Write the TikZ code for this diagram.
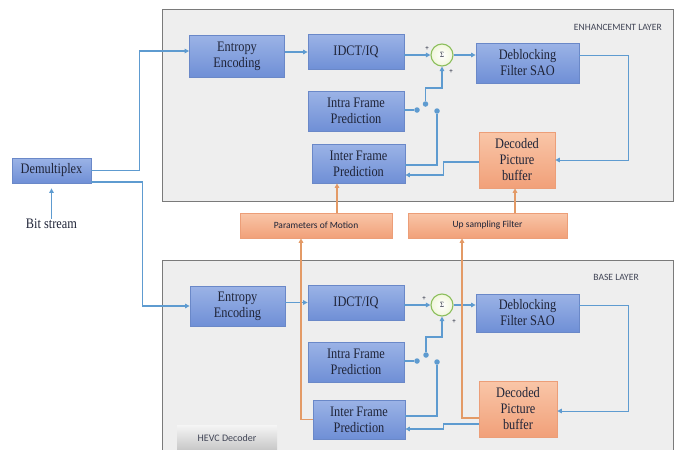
\documentclass[tikz,border=0pt]{standalone}
\usepackage{fontspec}
\setmainfont{Liberation Serif}
\newfontfamily\boxfont[FakeStretch=0.85]{Liberation Serif}
\newfontfamily\labelfont{Carlito}
\usetikzlibrary{arrows.meta,calc}

\definecolor{boxtop}{HTML}{9BB3E6}
\definecolor{boxbot}{HTML}{6F8FD6}
\definecolor{boxedge}{HTML}{6A88C8}
\definecolor{boxtext}{HTML}{1F2438}
\definecolor{otop}{HTML}{F9C6A8}
\definecolor{obot}{HTML}{F1A079}
\definecolor{oedge}{HTML}{EC9E78}
\definecolor{framefill}{HTML}{EEEEEE}
\definecolor{framedge}{HTML}{7A7A7A}
\definecolor{linkblue}{HTML}{5E9BD0}
\definecolor{linkorange}{HTML}{E39A66}
\definecolor{sumgreen}{HTML}{8CBF5C}
\definecolor{sumfill}{HTML}{F1F6DC}

\tikzset{
  blk/.style={draw=boxedge, line width=0.8pt, top color=boxtop, bottom color=boxbot,
    inner sep=0pt, align=center, text=boxtext, font=\boxfont\fontsize{14.5}{16}\selectfont},
  obox/.style={draw=oedge, line width=0.6pt, top color=otop, bottom color=obot,
    inner sep=0pt, align=center, text=boxtext},
  layerframe/.style={draw=framedge, fill=framefill, line width=1pt},
  sumnode/.style={circle, draw=sumgreen, line width=1.1pt, inner color=white,
    outer color=sumfill, minimum size=22pt, inner sep=0pt,
    font=\boxfont\fontsize{8}{8}\selectfont, text=boxtext},
  tip/.style={-{Triangle[length=4.5pt,width=4.5pt]}},
  conn/.style={draw=linkblue, line width=1.4pt, tip},
  lightconn/.style={draw=linkblue, line width=1pt, tip},
  wire/.style={draw=linkblue, line width=1.4pt},
  oconn/.style={draw=linkorange, line width=1.2pt, tip},
  dot/.style={circle, fill=linkblue, minimum size=5.5pt, inner sep=0pt},
  sign/.style={font=\labelfont\fontsize{7}{7}\selectfont, text=boxtext, inner sep=0pt},
  layername/.style={font=\labelfont\fontsize{9.6}{10}\selectfont, text=boxtext!85, inner sep=0pt},
  smalltag/.style={font=\labelfont\fontsize{9.5}{10}\selectfont},
}

\begin{document}
\begin{tikzpicture}[x=1pt, y=-1pt]
\path[use as bounding box] (0,0) rectangle (678,450);

% layer frames
\draw[layerframe] (162,9) rectangle (673,201);
\draw[layerframe] (162,260) rectangle (673,456);
\node[layername, anchor=east] (enhname) at (662,27) {ENHANCEMENT LAYER};
\node[layername, anchor=east] (basename) at (639,277) {BASE LAYER};
\node[draw=none, top color=gray!8, bottom color=gray!45, minimum width=100pt,
  minimum height=26pt, inner sep=0pt, font=\labelfont\fontsize{10}{10}\selectfont,
  text=boxtext!85] (hevc) at (227,438) {HEVC Decoder};

% input side
\node[blk, minimum width=79pt, minimum height=25pt] (Demux) at (51.5,170.5) {Demultiplex};
\node[inner sep=0pt, font=\boxfont\fontsize{14.5}{16}\selectfont, text=boxtext] (bits) at (51.5,224) {Bit stream};

% inter-layer boxes
\node[obox, smalltag, minimum width=152pt, minimum height=25pt] (Params) at (316,225.5) {Parameters of Motion};
\node[obox, smalltag, minimum width=159pt, minimum height=25pt] (UpS) at (487.5,225.5) {Up sampling Filter};

% enhancement layer blocks
\node[blk, minimum width=95pt, minimum height=42pt] (EE1) at (237,56) {Entropy\\Encoding};
\node[blk, minimum width=96pt, minimum height=35pt] (IDCT1) at (356,52) {IDCT/IQ};
\node[sumnode] (Sum1) at (442,55) {Σ};
\node[blk, minimum width=103pt, minimum height=40pt] (DB1) at (527.5,63) {Deblocking\\Filter SAO};
\node[blk, minimum width=96pt, minimum height=40pt] (Intra1) at (356,111) {Intra Frame\\Prediction};
\node[blk, minimum width=93pt, minimum height=39pt] (Inter1) at (358.5,163.5) {Inter Frame\\Prediction};
\node[obox, minimum width=76pt, minimum height=56pt, font=\boxfont\fontsize{14.5}{16}\selectfont]
  (DPB1) at (517,160) {Decoded\\Picture\\buffer};
\node[dot] (d1) at (417,110) {};
\node[dot] (p1) at (425.5,104) {};
\node[dot] (s1) at (437,111) {};
\node[sign] (plusA1) at (427,49) {+};
\node[sign] (plusB1) at (451,72) {+};

% base layer blocks
\node[blk, minimum width=95pt, minimum height=40pt] (EE2) at (237.5,306) {Entropy\\Encoding};
\node[blk, minimum width=96pt, minimum height=35pt] (IDCT2) at (356,302.5) {IDCT/IQ};
\node[sumnode] (Sum2) at (442,305) {Σ};
\node[blk, minimum width=103pt, minimum height=38pt] (DB2) at (527.5,313) {Deblocking\\Filter SAO};
\node[blk, minimum width=96pt, minimum height=40pt] (Intra2) at (356,362) {Intra Frame\\Prediction};
\node[blk, minimum width=92pt, minimum height=39pt] (Inter2) at (359,419.5) {Inter Frame\\Prediction};
\node[obox, minimum width=78pt, minimum height=56pt, font=\boxfont\fontsize{14.5}{16}\selectfont]
  (DPB2) at (518,409) {Decoded\\Picture\\buffer};
\node[dot] (d2) at (417,361) {};
\node[dot] (p2) at (426,355) {};
\node[dot] (s2) at (437,362) {};
\node[sign] (plusA2) at (424,299) {+};
\node[sign] (plusB2) at (454,322) {+};

% demultiplexer outputs
\draw[conn] (bits.north) -- ([yshift=-5pt]Demux.south);
\draw[conn] (Demux.east) -- ++(48,0) |- ([yshift=5pt]EE1.west);
\draw[conn] ([yshift=1.5pt]Demux.south east) -- ++(51,0) |- (EE2.west);

% enhancement layer data path
\draw[conn] (EE1.east |- IDCT1.west) -- (IDCT1.west);
\draw[conn] (IDCT1.east |- Sum1.west) -- (Sum1.west);
\draw[conn] (Sum1.east) -- (Sum1.east -| DB1.west);
\draw[lightconn] (DB1.east |- Sum1.east) -- ++(49,0) |- (DPB1.east);
\draw[conn] ([yshift=-2pt]DPB1.west) -- ++(-35,0) |- ([yshift=-11.5pt]Inter1.east);
\draw[wire] (Intra1.east |- d1) -- (d1);
\draw[conn] (p1) -- ++(0,-16) -| (Sum1.south);
\draw[wire] ([yshift=-1.5pt]Inter1.east) -| (s1);

% base layer data path
\draw[conn] (EE2.east |- IDCT2.west) -- (IDCT2.west);
\draw[conn] (IDCT2.east |- Sum2.west) -- (Sum2.west);
\draw[conn] (Sum2.east) -- (Sum2.east -| DB2.west);
\draw[lightconn] (DB2.east |- Sum2.east) -- ++(49,0) |- ([yshift=-2pt]DPB2.east);
\draw[conn] ([yshift=-15pt]DPB2.west) -- ++(-35,0) |- ([yshift=-9.5pt]Inter2.east);
\draw[wire] (Intra2.east |- d2) -- (d2);
\draw[conn] (p2) -- ++(0,-18) -| (Sum2.south);
\draw[wire] ([yshift=3.5pt]Inter2.east) -| (s2);

% inter-layer links
\draw[oconn] (Inter2.west) -| ([xshift=-15pt]Params.south);
\draw[oconn] ([xshift=21pt]Params.north) -- ([xshift=21pt]Params.north |- Inter1.south);
\draw[oconn] ([yshift=-9pt]DPB2.west) -| ([xshift=-25.5pt]UpS.south);
\draw[oconn] ([xshift=-2pt]DPB1.south |- UpS.north) -- ([xshift=-2pt]DPB1.south);
\end{tikzpicture}
\end{document}
